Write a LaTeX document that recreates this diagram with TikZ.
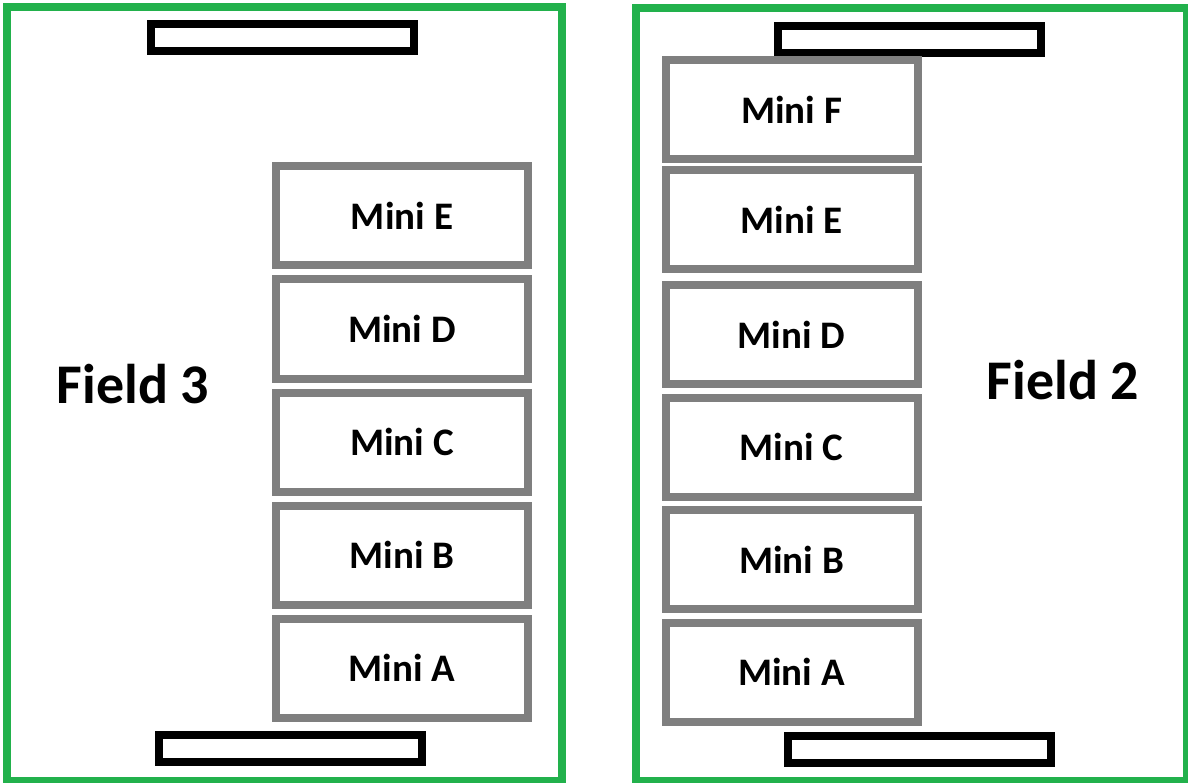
\documentclass[tikz,border=0pt]{standalone}
\usepackage{fontspec}
\setmainfont{Carlito}
\usepackage{tikz}

\definecolor{fieldgreen}{HTML}{22B14C}
\definecolor{minigray}{HTML}{7F7F7F}

\begin{document}
\begin{tikzpicture}[x=1pt,y=-1pt,
	field/.style={draw=fieldgreen,line width=8pt,inner sep=0pt},
	goal/.style={draw=black,line width=8pt,minimum width=263pt,minimum height=27pt,inner sep=0pt},
	mini/.style={draw=minigray,line width=8pt,fill=white,minimum width=252pt,minimum height=99pt,inner sep=0pt,font=\bfseries\fontsize{39}{46}\selectfont},
	fieldname/.style={font=\bfseries\fontsize{56}{67}\selectfont,inner sep=0pt}]
	\useasboundingbox (0,0) rectangle (1188,783);
	
	% Draw the two fields
	\node[field,minimum width=555pt,minimum height=774pt] (field3) at (284.5,394) {};
	\node[field,minimum width=551pt,minimum height=773pt] (field2) at (911.5,394.5) {};
	
	% Draw the goals
	\node[goal] (goal3top) at (282.5,38) {};
	\node[goal] (goal3bot) at (290.5,748) {};
	\node[goal] (goal2top) at (909.5,39.5) {};
	\node[goal] (goal2bot) at (919,749.5) {};
	
	% Draw minis of field 3
	\node[mini] (f3miniE) at (402,216) {Mini E};
	\node[mini] (f3miniD) at (402,329) {Mini D};
	\node[mini] (f3miniC) at (402,442) {Mini C};
	\node[mini] (f3miniB) at (402,555) {Mini B};
	\node[mini] (f3miniA) at (402,668) {Mini A};
	
	% Draw minis of field 2
	\node[mini] (f2miniF) at (791.5,109.5) {Mini F};
	\node[mini] (f2miniE) at (791.5,220) {Mini E};
	\node[mini] (f2miniD) at (791.5,334.5) {Mini D};
	\node[mini] (f2miniC) at (791.5,447) {Mini C};
	\node[mini] (f2miniB) at (791.5,559.5) {Mini B};
	\node[mini] (f2miniA) at (791.5,672) {Mini A};
	
	% Field names
	\node[fieldname] (name3) at (133,384) {Field 3};
	\node[fieldname] (name2) at (1063,380) {Field 2};
	
\end{tikzpicture}
\end{document}
